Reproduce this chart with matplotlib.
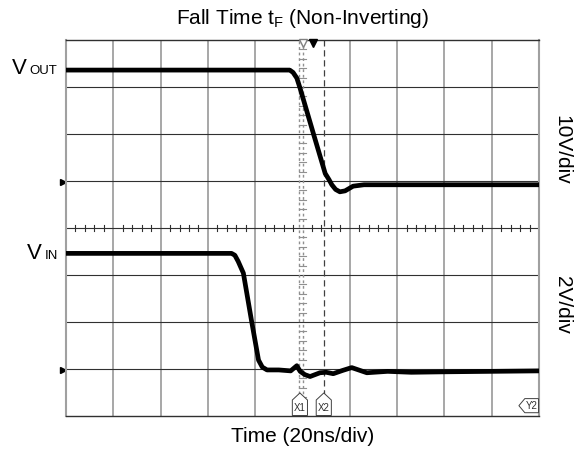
import matplotlib.pyplot as plt
from matplotlib.patches import Polygon

plt.rcParams['font.family'] = ['Liberation Sans', 'DejaVu Sans']
plt.rcParams['mathtext.fontset'] = 'custom'
plt.rcParams['mathtext.rm'] = 'Liberation Sans'

# time in ns (20 ns/div), voltages in V
vout_t = [0, 94.6, 96.0, 97.6, 99, 104.6, 109.6, 111.2, 112.4, 114, 115.8, 118, 121.4, 126, 200]
vout_v = [23.8, 23.8, 23.3, 22.1, 19.9, 10.3, 1.8, 0.5, -0.6, -1.6, -2.1, -1.9, -0.9, -0.6, -0.6]

vin_t = [0, 70, 71.4, 72.8, 75, 78.4, 81.4, 83.0, 85.0, 90, 95, 97.6, 99, 101, 103.2,
         107.4, 110, 113, 117, 120.8, 127.2, 136, 146, 160, 180, 200]
vin_v = [4.96, 4.96, 4.88, 4.62, 4.12, 2.12, 0.42, 0.12, 0.0, 0.0, -0.04, 0.18, -0.06, -0.2, -0.28,
         -0.12, -0.1, -0.16, -0.02, 0.1, -0.12, -0.06, -0.1, -0.08, -0.06, -0.04]

# channel settings
vout_scale, vout_gnd = 10, 4.98   # V/div, ground position (div)
vin_scale, vin_gnd = 2, 0.98

x1_t, x2_t = 98.6, 109.0

fig = plt.figure(figsize=(5.87, 4.5), dpi=100)
W, H = 587, 450
ax = fig.add_axes([66 / W, 1 - 416 / H, 473 / W, 376 / H])
ax.set_xlim(0, 200)
ax.set_ylim(0, 8)
ax.set_xticks([])
ax.set_yticks([])

# graticule
for i in range(1, 10):
    if i != 5:
        ax.axvline(i * 20, color='#a0a0a0', lw=1.3, zorder=1)
for j in range(1, 8):
    ax.axhline(j, color='#303030', lw=0.8, zorder=1)
for s in ['left', 'right']:
    ax.spines[s].set_color('#a0a0a0')
    ax.spines[s].set_linewidth(1.5)
for s in ['top', 'bottom']:
    ax.spines[s].set_color('#303030')
    ax.spines[s].set_linewidth(1.0)

# center axes with minor ticks
ax.axvline(100, color='#909090', lw=1, ls=(0, (2, 2)), zorder=1)
for k in range(1, 50):
    if k % 5:
        ax.plot([k * 4, k * 4], [3.94, 4.06], color='#303030', lw=0.8, zorder=1)
for k in range(1, 40):
    if k % 5:
        ax.plot([98.6, 101.4], [k * 0.2, k * 0.2], color='#909090', lw=0.8, zorder=1)

# cursors
ax.axvline(x1_t, color='#909090', lw=1, ls=(0, (2, 2)), zorder=1)
ax.axvline(x2_t, color='#404040', lw=0.9, ls=(0, (5, 3)), zorder=1)

# traces
ax.plot(vout_t, [vout_gnd + v / vout_scale for v in vout_v], color='black', lw=3.4,
        solid_joinstyle='round', zorder=3)
ax.plot(vin_t, [vin_gnd + v / vin_scale for v in vin_v], color='black', lw=3.4,
        solid_joinstyle='round', zorder=3)

# ground markers
ax.plot([-1.2, -1.2], [vout_gnd, vin_gnd], ls='none', marker='>', ms=5, color='black', clip_on=False)

# top markers
ax.plot([100], [7.94], marker='v', ms=6, mfc='white', mec='#808080', clip_on=False, zorder=4)
ax.plot([104.4], [7.94], marker='v', ms=6, color='black', clip_on=False, zorder=4)

# cursor labels
hw, sh, ap = 3.2, 0.34, 0.49
for xc, lab in [(x1_t + 0.3, 'X1'), (x2_t, 'X2')]:
    ax.add_patch(Polygon([[xc - hw, 0.01], [xc + hw, 0.01], [xc + hw, sh], [xc, ap], [xc - hw, sh]],
                         closed=True, fc='white', ec='#404040', lw=0.7, zorder=5))
    ax.text(xc, 0.16, lab, fontsize=7, ha='center', va='center', color='#303030', zorder=6)
ax.add_patch(Polygon([[191.5, 0.22], [194, 0.07], [199.8, 0.07], [199.8, 0.37], [194, 0.37]],
                     closed=True, fc='white', ec='#404040', lw=0.7, zorder=5))
ax.text(196.8, 0.22, 'Y2', fontsize=7, ha='center', va='center', color='#303030', zorder=6)

# texts
fig.text(302.5 / W, 1 - 18 / H, r'Fall Time t$_{\mathregular{F}}$ (Non-Inverting)',
         fontsize=15, ha='center', va='center')
fig.text(302.5 / W, 1 - 437 / H, 'Time (20ns/div)', fontsize=15, ha='center', va='center')

fig.text(12 / W, 1 - 74 / H, 'V', fontsize=16, ha='left', va='baseline')
fig.text(29.5 / W, 1 - 74 / H, 'OUT', fontsize=9.5, ha='left', va='baseline')
fig.text(27 / W, 1 - 259 / H, 'V', fontsize=16, ha='left', va='baseline')
fig.text(44.5 / W, 1 - 259 / H, 'IN', fontsize=9.5, ha='left', va='baseline')

fig.text(562 / W, 1 - 150 / H, '10V/div', fontsize=15, rotation=270, ha='center', va='center')
fig.text(562 / W, 1 - 305 / H, '2V/div', fontsize=15, rotation=270, ha='center', va='center')

fig.savefig('out.png', dpi=100)
